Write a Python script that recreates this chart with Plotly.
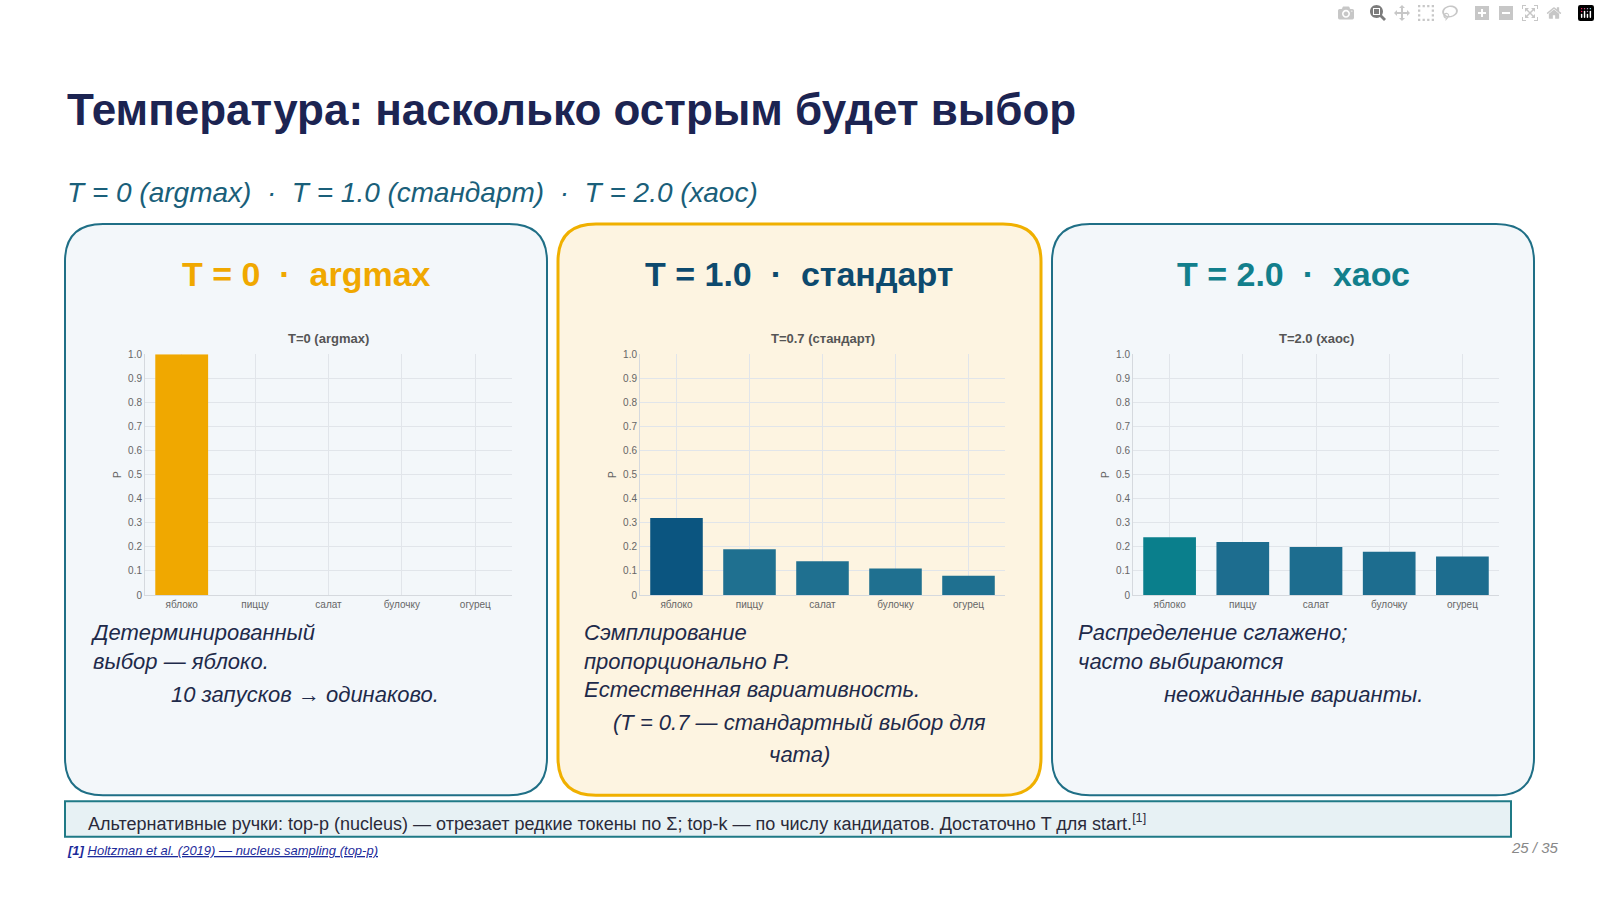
import plotly.graph_objects as go

W, H = 1600, 900

tokens = ["яблоко", "пиццу", "салат", "булочку", "огурец"]
p_t0 = [1.0, 0, 0, 0, 0]
p_t07 = [0.32, 0.19, 0.14, 0.11, 0.08]
p_t20 = [0.24, 0.22, 0.20, 0.18, 0.16]
chart_titles = ["T=0 (argmax)", "T=0.7 (стандарт)", "T=2.0 (хаос)"]
y_ticks = [0, 0.1, 0.2, 0.3, 0.4, 0.5, 0.6, 0.7, 0.8, 0.9, 1.0]
y_tick_text = ["0", "0.1", "0.2", "0.3", "0.4", "0.5", "0.6", "0.7", "0.8", "0.9", "1.0"]

colors_t0 = ["#f0a800"] * 5
colors_t07 = ["#0b5580"] + ["#1f7090"] * 4
colors_t20 = ["#0a7f8c"] + ["#1d6d8f"] * 4

FONT = "Liberation Sans, Arial, sans-serif"


def px(x):
    return x / W


def py(y):
    return 1 - y / H


def rounded(x0, y0, x1, y1, r):
    # rounded rectangle path in pixel units, converted to paper coords
    rx, ry = r / W, r / H
    a, b, c, d = px(x0), py(y1), px(x1), py(y0)
    return (f"M {a+rx},{b} L {c-rx},{b} Q {c},{b} {c},{b+ry} L {c},{d-ry} "
            f"Q {c},{d} {c-rx},{d} L {a+rx},{d} Q {a},{d} {a},{d-ry} "
            f"L {a},{b+ry} Q {a},{b} {a+rx},{b} Z")


def note(text, x, y, size, color, xanchor="center", align="center"):
    return dict(text=text, x=px(x), y=py(y), xref="paper", yref="paper", showarrow=False,
                xanchor=xanchor, yanchor="middle", align=align,
                font=dict(size=size, color=color, family=FONT))


fig = go.Figure()

panels = [(65, 547, "#f3f7fa", "#1f6f86", 2), (558, 1041, "#fdf4e1", "#f0b000", 3),
          (1052, 1534, "#f3f7fa", "#1f6f86", 2)]
shapes = []
for x0, x1, fill, line, lw in panels:
    shapes.append(dict(type="path", path=rounded(x0, 221, x1, 800, 38), xref="paper", yref="paper",
                       fillcolor=fill, line=dict(color=line, width=lw), layer="below"))
shapes.append(dict(type="rect", xref="paper", yref="paper", x0=px(65), x1=px(1511), y0=py(842), y1=py(806),
                   fillcolor="#e7f1f4", line=dict(color="#1f7a86", width=2), layer="below"))

plot_x = [(145, 512), (640, 1005), (1133, 1499)]
series = [(p_t0, colors_t0), (p_t07, colors_t07), (p_t20, colors_t20)]
layout_axes = {}
annotations = []
for i, ((vals, cols), (ax0, ax1)) in enumerate(zip(series, plot_x)):
    n = "" if i == 0 else str(i + 1)
    fig.add_trace(go.Bar(x=tokens, y=vals, marker=dict(color=cols, line=dict(width=0)),
                         width=0.72, xaxis="x" + n, yaxis="y" + n, showlegend=False))
    layout_axes["xaxis" + n] = dict(domain=[px(ax0), px(ax1)], anchor="y" + n, showgrid=True,
                                   gridcolor="#e1e5ea", tickfont=dict(size=10, color="#666", family=FONT),
                                   showline=True, linecolor="#d5d9de", ticks="", type="category")
    layout_axes["yaxis" + n] = dict(domain=[py(597), py(353)], anchor="x" + n, range=[0, 1.0],
                                   tickvals=y_ticks, ticktext=y_tick_text, gridcolor="#e1e5ea",
                                   zeroline=False, showline=True, linecolor="#d5d9de",
                                   tickfont=dict(size=10, color="#666", family=FONT),
                                   title=dict(text="P", font=dict(size=10, color="#666"), standoff=4))
    annotations.append(note(f"<b>{chart_titles[i]}</b>", (ax0 + ax1) / 2, 337, 13, "#555"))

heads = [("T = 0  ·  argmax", "#f0a800", 306), ("T = 1.0  ·  стандарт", "#0d4a6e", 799),
         ("T = 2.0  ·  хаос", "#127f8c", 1293)]
for text, col, cx in heads:
    annotations.append(note(f"<b>{text}</b>", cx, 272, 34, col))

body = [
    ("<i>Детерминированный<br>выбор — яблоко.</i>", 88, 650, "left"),
    ("<i>10 запусков → одинаково.</i>", 305, 698, "center"),
    ("<i>Сэмплирование<br>пропорционально P.<br>Естественная вариативность.</i>", 582, 664, "left"),
    ("<i>(T = 0.7 — стандартный выбор для</i>", 799, 726, "center"),
    ("<i>чата)</i>", 799, 759, "center"),
    ("<i>Распределение сглажено;<br>часто выбираются</i>", 1076, 650, "left"),
    ("<i>неожиданные варианты.</i>", 1293, 698, "center"),
]
for text, x, y, al in body:
    annotations.append(note(text, x, y, 22, "#1e2a4a", xanchor=al, align=al))

annotations += [
    note("<b>Температура: насколько острым будет выбор</b>", 65, 105, 44, "#1c2452", xanchor="left"),
    note("<i>T = 0 (argmax)  ·  T = 1.0 (стандарт)  ·  T = 2.0 (хаос)</i>", 65, 189, 28, "#1a5f7a",
         xanchor="left"),
    note("Альтернативные ручки: top-p (nucleus) — отрезает редкие токены по Σ; top-k — по числу кандидатов. "
         "Достаточно T для start.<sup>[1]</sup>", 86, 828, 18, "#2a2a3a", xanchor="left"),
    note("<i><b>[1]</b> <u>Holtzman et al. (2019) — nucleus sampling (top-p)</u></i>", 65, 856, 13, "#1c2a9a",
         xanchor="left"),
    note("<i>25 / 35</i>", 1561, 853, 15, "#888", xanchor="right"),
]

fig.update_layout(width=W, height=H, margin=dict(l=0, r=0, t=0, b=0), paper_bgcolor="white",
                  plot_bgcolor="rgba(0,0,0,0)", shapes=shapes, annotations=annotations, bargap=0.28,
                  font=dict(family=FONT), **layout_axes)

fig.write_html("out.html",
               post_script="document.body.style.margin='0';document.body.style.overflow='hidden';")
